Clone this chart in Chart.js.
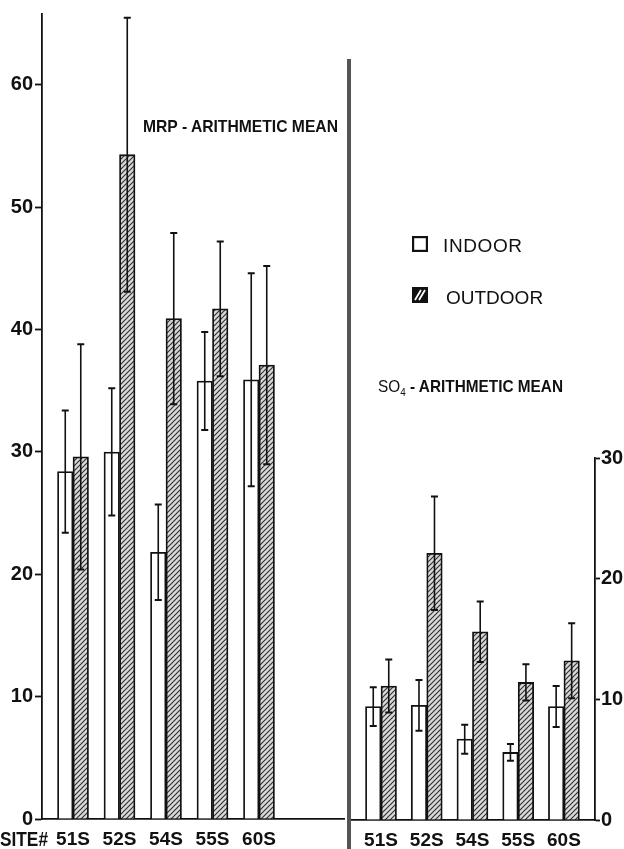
<!DOCTYPE html>
<html>
<head>
<meta charset="utf-8">
<script src="https://cdn.jsdelivr.net/npm/chart.js@4.4.1/dist/chart.umd.min.js"></script>
<style>
  html, body { margin: 0; padding: 0; background: #fff; }
  #page { position: relative; width: 624px; height: 849px; overflow: hidden; background: #fff; }
  canvas { position: absolute; top: 0; }
  #mrpCanvas { left: 0; }
  #so4Canvas { left: 340px; }
  .txt { position: absolute; white-space: nowrap; color: #111; line-height: 1; transform-origin: 0 50%; }
  .bold { font-family: "Liberation Sans", Arial, sans-serif; font-weight: bold; }
  .plain { font-family: "Liberation Sans", Arial, sans-serif; font-weight: normal; }
  #divider { position: absolute; left: 347px; top: 59px; width: 4px; height: 790px; background: #555; }
  .swatch { position: absolute; }
</style>
</head>
<body>
<div id="page">
  <canvas id="mrpCanvas" width="345" height="849"></canvas>
  <canvas id="so4Canvas" width="284" height="849"></canvas>
  <div id="divider"></div>

  <div class="txt bold fit" data-w="195" style="left:143px; top:118px; font-size:17px;">MRP - ARITHMETIC MEAN</div>
  <div class="txt bold fit" data-w="185" style="left:378px; top:378px; font-size:17px;"><span class="plain">SO<sub style="font-size:11px; line-height:0;">4</sub></span> - ARITHMETIC MEAN</div>
  <div class="txt bold fit" data-w="48" style="left:0px; top:829px; font-size:20px;">SITE#</div>

  <canvas class="swatch" id="swIn" width="16" height="16" style="left:412px; top:236px;"></canvas>
  <div class="txt plain" style="left:443px; top:236px; font-size:19px; letter-spacing:0.6px;">INDOOR</div>
  <canvas class="swatch" id="swOut" width="16" height="16" style="left:412px; top:287px;"></canvas>
  <div class="txt plain" style="left:446px; top:288px; font-size:19px;">OUTDOOR</div>
</div>

<script>
// sites along the bottom of both panels
const SITES = ["51S", "52S", "54S", "55S", "60S"];

// MRP arithmetic means with their error half-widths
const MRP_INDOOR = [28.4, 30.0, 21.8, 35.8, 35.9];
const MRP_INDOOR_ERR = [5.0, 5.2, 3.9, 4.0, 8.7];
const MRP_OUTDOOR = [29.6, 54.3, 40.9, 41.7, 37.1];
const MRP_OUTDOOR_ERR = [9.2, 11.2, 7.0, 5.5, 8.1];

// SO4 arithmetic means with their error half-widths
const SO4_INDOOR = [9.4, 9.5, 6.7, 5.6, 9.4];
const SO4_INDOOR_ERR = [1.6, 2.1, 1.2, 0.7, 1.7];
const SO4_OUTDOOR = [11.1, 22.1, 15.6, 11.4, 13.2];
const SO4_OUTDOOR_ERR = [2.2, 4.7, 2.5, 1.5, 3.1];

const MRP_TICKS = [0, 10, 20, 30, 40, 50, 60];
const SO4_TICKS = [0, 10, 20, 30];

const INK = "#111";
const Y_FONT = { family: "'Liberation Sans', Arial, sans-serif", size: 20, weight: "bold" };
const X_FONT = { family: "'Liberation Sans', Arial, sans-serif", size: 19, weight: "bold" };

// diagonal hatching used for the outdoor bars
function makeHatch() {
  const s = 5;
  const c = document.createElement("canvas");
  c.width = s;
  c.height = s;
  const g = c.getContext("2d");
  g.fillStyle = "#d9d9d9";
  g.fillRect(0, 0, s, s);
  g.strokeStyle = "#333";
  g.lineWidth = 1.2;
  g.beginPath();
  g.moveTo(-1, s + 1);
  g.lineTo(s + 1, -1);
  g.moveTo(-1, 1);
  g.lineTo(1, -1);
  g.moveTo(s - 1, s + 1);
  g.lineTo(s + 1, s - 1);
  g.stroke();
  return g.createPattern(c, "repeat");
}

// vertical error bars on top of each bar
const errorBars = {
  id: "errorBars",
  afterDatasetsDraw(chart) {
    const ctx = chart.ctx;
    const yScale = chart.scales.y;
    ctx.save();
    ctx.strokeStyle = INK;
    chart.data.datasets.forEach((ds, di) => {
      const meta = chart.getDatasetMeta(di);
      meta.data.forEach((bar, i) => {
        const v = ds.data[i].y;
        const e = ds.errors[i];
        const top = yScale.getPixelForValue(v + e);
        const bottom = yScale.getPixelForValue(v - e);
        const x = bar.x;
        ctx.lineWidth = 1.6;
        ctx.beginPath();
        ctx.moveTo(x, top);
        ctx.lineTo(x, bottom);
        ctx.stroke();
        ctx.lineWidth = 2;
        ctx.beginPath();
        ctx.moveTo(x - 3.5, top);
        ctx.lineTo(x + 3.5, top);
        ctx.moveTo(x - 3.5, bottom);
        ctx.lineTo(x + 3.5, bottom);
        ctx.stroke();
      });
    });
    ctx.restore();
  },
};

function toPoints(values) {
  return values.map((v, i) => ({ x: i, y: v }));
}

function buildPanel(canvasId, cfg) {
  const hatch = makeHatch();
  return new Chart(document.getElementById(canvasId), {
    type: "bar",
    data: {
      datasets: [
        {
          label: "INDOOR",
          data: toPoints(cfg.indoor),
          errors: cfg.indoorErr,
          backgroundColor: "#fff",
          borderColor: INK,
          borderWidth: 1.8,
        },
        {
          label: "OUTDOOR",
          data: toPoints(cfg.outdoor),
          errors: cfg.outdoorErr,
          backgroundColor: hatch,
          borderColor: INK,
          borderWidth: 1.8,
        },
      ],
    },
    options: {
      responsive: false,
      animation: false,
      barThickness: 15.5,
      layout: { padding: cfg.padding },
      plugins: { legend: { display: false }, tooltip: { enabled: false } },
      scales: {
        x: {
          type: "linear",
          offset: false,
          min: cfg.xMin,
          max: cfg.xMax,
          afterBuildTicks: (scale) => {
            scale.ticks = SITES.map((s, i) => ({ value: i }));
          },
          afterFit: (scale) => {
            scale.height = cfg.xHeight;
          },
          ticks: {
            autoSkip: false,
            maxRotation: 0,
            padding: 9,
            color: INK,
            font: X_FONT,
            callback: (value) => SITES[value] ?? "",
          },
          grid: { display: true, drawOnChartArea: false, drawTicks: false },
          border: { display: true, color: INK, width: 1.8 },
        },
        y: {
          position: cfg.yPosition,
          min: 0,
          max: cfg.yMax,
          afterBuildTicks: (scale) => {
            scale.ticks = cfg.ticks.map((t) => ({ value: t }));
          },
          afterFit: (scale) => {
            scale.width = cfg.yWidth;
          },
          ticks: { padding: cfg.tickPad, color: INK, font: Y_FONT },
          grid: {
            drawOnChartArea: false,
            drawTicks: true,
            tickLength: cfg.tickLength,
            tickWidth: 1.8,
            tickColor: INK,
          },
          border: { display: true, color: INK, width: 1.8 },
        },
      },
    },
    plugins: [errorBars],
  });
}

buildPanel("mrpCanvas", {
  indoor: MRP_INDOOR,
  indoorErr: MRP_INDOOR_ERR,
  outdoor: MRP_OUTDOOR,
  outdoorErr: MRP_OUTDOOR_ERR,
  ticks: MRP_TICKS,
  yMax: 65.8,
  yPosition: "left",
  yWidth: 42,
  tickLength: 7,
  tickPad: 2,
  xHeight: 30,
  xMin: -0.667,
  xMax: 5.85,
  padding: { top: 12, right: 0, left: 0, bottom: 0 },
});

buildPanel("so4Canvas", {
  indoor: SO4_INDOOR,
  indoorErr: SO4_INDOOR_ERR,
  outdoor: SO4_OUTDOOR,
  outdoorErr: SO4_OUTDOOR_ERR,
  ticks: SO4_TICKS,
  yMax: 30,
  yPosition: "right",
  yWidth: 29,
  tickLength: 5,
  tickPad: 1,
  xHeight: 29,
  xMin: -0.678,
  xMax: 4.68,
  padding: { top: 458, right: 0, left: 10, bottom: 0 },
});

// squeeze the captions to the lettering width
document.querySelectorAll(".fit").forEach((el) => {
  const w = el.getBoundingClientRect().width;
  el.style.transform = `scaleX(${Number(el.dataset.w) / w})`;
});

// legend swatches
(function drawSwatches() {
  const a = document.getElementById("swIn").getContext("2d");
  a.strokeStyle = INK;
  a.lineWidth = 2.2;
  a.strokeRect(1.1, 1.1, 13.8, 13.8);

  const b = document.getElementById("swOut").getContext("2d");
  b.fillStyle = INK;
  b.fillRect(0, 0, 16, 16);
  b.strokeStyle = "#fff";
  b.lineWidth = 1.8;
  b.beginPath();
  b.moveTo(3, 13);
  b.lineTo(9, 3);
  b.moveTo(7, 13);
  b.lineTo(13, 3);
  b.stroke();
})();
</script>
</body>
</html>
